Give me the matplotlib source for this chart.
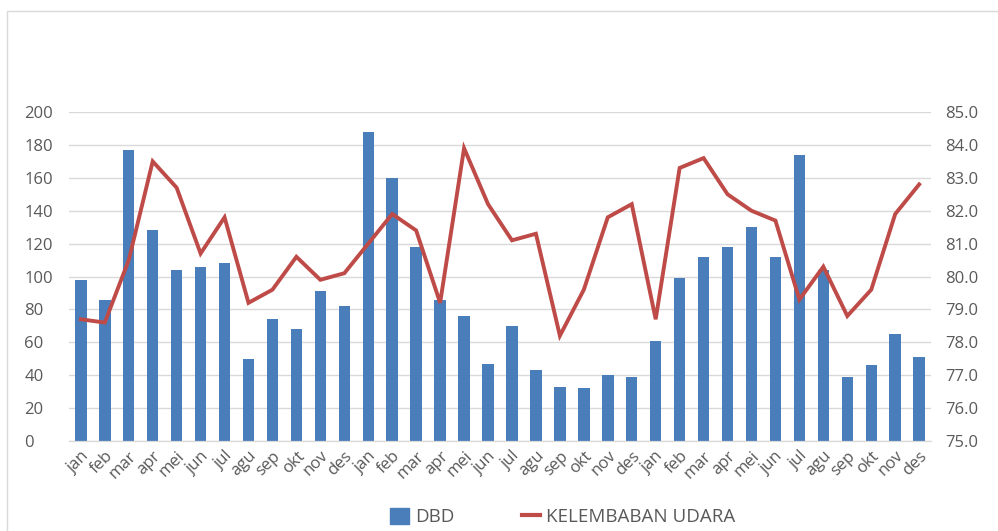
import numpy as np
import matplotlib.pyplot as plt
from matplotlib.patches import Rectangle
from matplotlib.lines import Line2D

plt.rcParams['font.family'] = ['Open Sans', 'DejaVu Sans']

months = ['jan', 'feb', 'mar', 'apr', 'mei', 'jun', 'jul', 'agu', 'sep', 'okt', 'nov', 'des']
labels = months * 3

dbd = [98, 86, 177, 128, 104, 106, 108, 50, 74, 68, 91, 82,
       188, 160, 118, 86, 76, 47, 70, 43, 33, 32, 40, 39,
       61, 99, 112, 118, 130, 112, 174, 104, 39, 46, 65, 51]

kelembaban = [78.7, 78.6, 80.5, 83.5, 82.7, 80.7, 81.8, 79.2, 79.6, 80.6, 79.9, 80.1,
              81.0, 81.9, 81.4, 79.2, 83.9, 82.2, 81.1, 81.3, 78.2, 79.6, 81.8, 82.2,
              78.7, 83.3, 83.6, 82.5, 82.0, 81.7, 79.3, 80.3, 78.8, 79.6, 81.9, 82.8]

blue = '#4a7ebb'
red = '#be4b48'
grey = '#595959'

fig = plt.figure(figsize=(9.98, 5.31), dpi=100)
ax = fig.add_axes([0.069, 0.1695, 0.864, 0.6195])
ax2 = ax.twinx()

# light frame around the chart area
fig.patches.append(Rectangle((0.007, -0.1), 1.1, 1.079, transform=fig.transFigure,
                             fill=False, edgecolor='#d9d9d9', linewidth=1.0))

x = np.arange(len(labels))
ax.bar(x, dbd, width=0.48, color=blue, zorder=2)
ax2.plot(x, kelembaban, color=red, linewidth=2.8, solid_joinstyle='miter', zorder=3)

ax.set_xlim(-0.5, len(labels) - 0.5)
ax.set_ylim(0, 200)
ax.set_yticks(np.arange(0, 201, 20))
ax2.set_ylim(75, 85)
ax2.set_yticks(np.arange(75, 85.1, 1))
ax2.set_yticklabels([f'{v:.1f}' for v in np.arange(75, 85.1, 1)])

ax.yaxis.grid(True, color='#d9d9d9', linewidth=1.0, zorder=0)
ax.set_axisbelow(True)

for a in (ax, ax2):
    for side in ('top', 'left', 'right'):
        a.spines[side].set_visible(False)
    a.spines['bottom'].set_color('#d9d9d9')
    a.tick_params(length=0, labelsize=12, labelcolor=grey)
ax.tick_params(axis='y', pad=32)
ax2.tick_params(axis='y', pad=10)

ax.set_xticks(x)
ax.set_xticklabels(labels, rotation=45, ha='right', rotation_mode='anchor')
ax.tick_params(axis='x', pad=5, labelsize=12)
for t in ax.get_yticklabels():
    t.set_horizontalalignment('left')

handles = [Rectangle((0, 0), 1, 1, color=blue),
           Line2D([0], [0], color=red, linewidth=3)]
fig.legend(handles, ['DBD', 'KELEMBABAN UDARA'], loc='center', bbox_to_anchor=(0.564, 0.026),
           ncol=2, frameon=False, fontsize=13.5, labelcolor=grey,
           handlelength=1.0, handleheight=0.9, columnspacing=3.6, handletextpad=0.3)

fig.savefig('out.png', dpi=100)
